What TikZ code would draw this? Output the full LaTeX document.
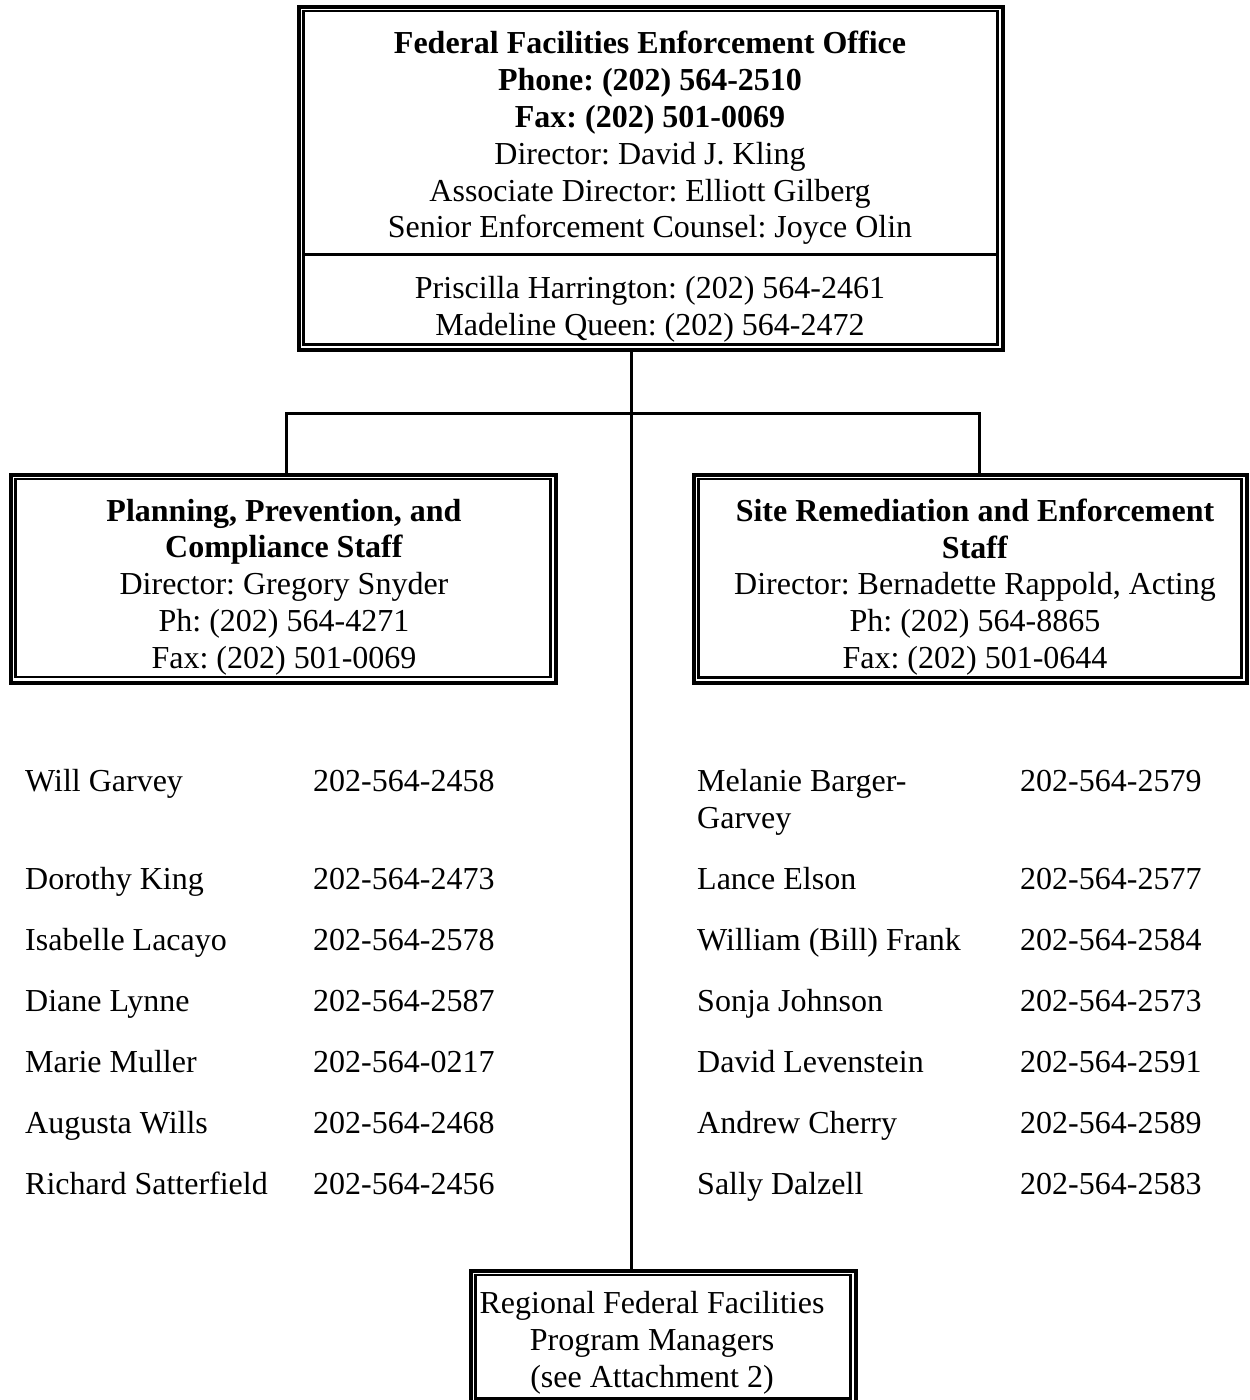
\documentclass[tikz,border=0pt]{standalone}
\usepackage{fontspec}
\setmainfont{Liberation Serif}
\frenchspacing
\begin{document}
\begin{tikzpicture}[x=1pt,y=-1pt,
  txt/.style={font=\fontsize{32}{36.8}\selectfont\frenchspacing, inner sep=0pt, align=center},
  lst/.style={font=\fontsize{32}{36.8}\selectfont\frenchspacing, inner sep=0pt, anchor=base west},
  frame/.style={rectangle, draw=none, inner sep=0pt, outer sep=0pt},
  outerln/.style={line width=4pt},
  innerln/.style={line width=2.5pt},
  conn/.style={line width=3pt}
]
\useasboundingbox (0,0) rectangle (1250,1400);
\clip (0,0) rectangle (1250,1400);
\fill[white] (0,0) rectangle (1250,1400);

% box frames (outer line centres)
\node[frame, minimum width=704pt, minimum height=343.5pt] (top) at (651,178.25) {};
\node[frame, minimum width=545pt, minimum height=208pt] (left) at (283.5,578.5) {};
\node[frame, minimum width=553pt, minimum height=208.5pt] (right) at (970.5,578.75) {};
\node[frame, minimum width=385pt, minimum height=133.5pt] (bot) at (663.5,1337.25) {};

\foreach \n in {top,left,right,bot}{
  \draw[outerln] (\n.north west) rectangle (\n.south east);
  \draw[innerln] ([shift={(4.5,4.5)}]\n.north west) rectangle ([shift={(-5.5,-5.5)}]\n.south east);
}
% divider in top box
\coordinate (dl) at (303.5,254.5);
\coordinate (dr) at (997.5,254.5);
\draw[line width=3pt] (dl) -- (dr);

% texts
\node[txt] (toptxt) at (650,138) {\textbf{Federal Facilities Enforcement Office}\\
  \textbf{Phone: (202) 564-2510}\\
  \textbf{Fax: (202) 501-0069}\\
  Director: David J. Kling\\
  Associate Director: Elliott Gilberg\\
  Senior Enforcement Counsel: Joyce Olin};
\node[txt] (toplow) at (650,309) {Priscilla Harrington: (202) 564-2461\\
  Madeline Queen: (202) 564-2472};
\node[txt] (lefttxt) at (284,587) {\textbf{Planning, Prevention, and}\\
  \textbf{Compliance Staff}\\
  Director: Gregory Snyder\\
  Ph: (202) 564-4271\\
  Fax: (202) 501-0069};
\node[txt] (righttxt) at (975,587) {\textbf{Site Remediation and Enforcement}\\
  \textbf{Staff}\\
  Director: Bernadette Rappold, Acting\\
  Ph: (202) 564-8865\\
  Fax: (202) 501-0644};
\node[txt] (bottxt) at (652,1343) {Regional Federal Facilities\\
  Program Managers\\
  (see Attachment 2)};

% left list
\node[lst] (l1) at (25,791) {Will Garvey};
\node[lst] (l1p) at (313,791) {202-564-2458};
\node[lst] (l2) at (25,889) {Dorothy King};
\node[lst] (l2p) at (313,889) {202-564-2473};
\node[lst] (l3) at (25,950) {Isabelle Lacayo};
\node[lst] (l3p) at (313,950) {202-564-2578};
\node[lst] (l4) at (25,1011) {Diane Lynne};
\node[lst] (l4p) at (313,1011) {202-564-2587};
\node[lst] (l5) at (25,1072) {Marie Muller};
\node[lst] (l5p) at (313,1072) {202-564-0217};
\node[lst] (l6) at (25,1133) {Augusta Wills};
\node[lst] (l6p) at (313,1133) {202-564-2468};
\node[lst] (l7) at (25,1194) {Richard Satterfield};
\node[lst] (l7p) at (313,1194) {202-564-2456};

% right list
\node[lst] (r1) at (697,791) {Melanie Barger-};
\node[lst] (r1b) at (697,828) {Garvey};
\node[lst] (r1p) at (1020,791) {202-564-2579};
\node[lst] (r2) at (697,889) {Lance Elson};
\node[lst] (r2p) at (1020,889) {202-564-2577};
\node[lst] (r3) at (697,950) {William (Bill) Frank};
\node[lst] (r3p) at (1020,950) {202-564-2584};
\node[lst] (r4) at (697,1011) {Sonja Johnson};
\node[lst] (r4p) at (1020,1011) {202-564-2573};
\node[lst] (r5) at (697,1072) {David Levenstein};
\node[lst] (r5p) at (1020,1072) {202-564-2591};
\node[lst] (r6) at (697,1133) {Andrew Cherry};
\node[lst] (r6p) at (1020,1133) {202-564-2589};
\node[lst] (r7) at (697,1194) {Sally Dalzell};
\node[lst] (r7p) at (1020,1194) {202-564-2583};

% connectors
\coordinate (j) at (631,413.5);
\coordinate (cl) at (286.5,413.5);
\coordinate (cr) at (979,413.5);
\draw[conn] (top.south -| j) -- (bot.north -| j);
\draw[conn] (left.north -| cl) -- (cl) -- (cr) -- (right.north -| cr);
\end{tikzpicture}
\end{document}
